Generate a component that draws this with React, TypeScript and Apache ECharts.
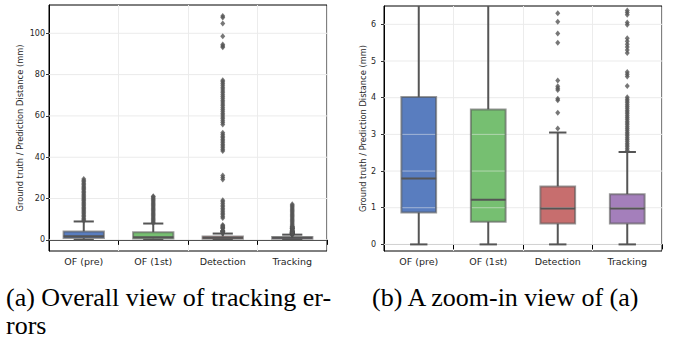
import React, { useEffect, useRef } from "react";
import * as echarts from "echarts";

const categories = ["OF (pre)", "OF (1st)", "Detection", "Tracking"];
const lowWhisker = [0, 0, 0, 0];
const q1 = [0.87, 0.62, 0.57, 0.57];
const median = [1.8, 1.22, 0.98, 0.98];
const q3 = [4.02, 3.68, 1.58, 1.37];
const highWhisker = [8.9, 7.9, 3.05, 2.52];
const boxColors = ["#597dbf", "#76bf71", "#c76e6e", "#a47fbb"];

const outliersOFpre = [9.3, 9.9, 10.5, 11.2, 11.8, 12.5, 13.1, 13.8, 14.4, 15.1, 15.7, 16.4, 17.0, 17.7, 18.3, 19.0, 19.6, 20.3, 20.9, 21.6, 22.2, 22.9, 23.5, 24.2, 24.8, 25.5, 26.1, 26.8, 27.4, 28.1, 28.7, 29.4];
const outliersOF1st = [8.1, 8.7, 9.3, 9.9, 10.5, 11.1, 11.7, 12.3, 12.9, 13.5, 14.1, 14.7, 15.3, 15.9, 16.5, 17.1, 17.7, 18.3, 18.9, 19.5, 20.1, 20.7, 21.1];
const outliersDetection = [3.16, 3.59, 3.93, 3.97, 4.21, 4.26, 4.31, 4.47, 5.5, 5.75, 6.07, 6.3, 6.8, 7.2, 10.6, 11.3, 12.1, 12.9, 13.6, 14.4, 15.2, 16.0, 16.8, 17.6, 18.4, 19.2, 29.2, 30.2, 31.1, 43.0, 43.8, 44.6, 45.4, 46.2, 47.0, 47.8, 48.6, 49.4, 50.2, 51.0, 51.8, 55.9, 56.8, 57.7, 58.6, 59.5, 60.4, 61.3, 62.2, 63.1, 64.0, 64.9, 65.8, 66.7, 67.6, 68.5, 69.4, 70.3, 71.2, 72.1, 73.0, 73.9, 74.8, 75.7, 76.6, 77.3, 93.2, 93.9, 94.6, 98.6, 104.8, 107.6, 108.4];
const outliersTracking = [2.56, 2.61, 2.66, 2.71, 2.76, 2.81, 2.86, 2.91, 2.96, 3.01, 3.06, 3.11, 3.16, 3.21, 3.26, 3.31, 3.36, 3.41, 3.46, 3.51, 3.56, 3.61, 3.66, 3.71, 3.76, 3.81, 3.86, 3.91, 3.96, 4.01, 4.32, 4.58, 4.64, 4.7, 5.22, 5.3, 5.38, 5.46, 5.54, 5.62, 5.99, 6.05, 6.26, 6.32, 6.38, 7.0, 7.6, 8.2, 8.8, 9.4, 10.0, 10.6, 11.2, 11.8, 12.4, 13.0, 13.6, 14.2, 14.8, 15.4, 16.0, 16.6, 17.2];
const outlierLists = [outliersOFpre, outliersOF1st, outliersDetection, outliersTracking];

const leftTicks = [0, 20, 40, 60, 80, 100];
const rightTicks = [0, 1, 2, 3, 4, 5, 6];
const leftRange = [-5.4, 113.7];
const rightRange = [-0.18, 6.5];

const yName = "Ground truth / Prediction Distance (mm)";
const captionA1 = "(a) Overall view of tracking er-";
const captionA2 = "rors";
const captionB = "(b) A zoom-in view of (a)";

const LINE = "#555555";
const TXT = "#262626";
const FONT = "DejaVu Sans";
const SERIF = "'Liberation Serif', 'Times New Roman', Times, serif";

function makeRender(ratio: number, ticks: number[]) {
  return (params: any, api: any) => {
    const cs = params.coordSys;
    const top = cs.y;
    const bottom = cs.y + cs.height;
    const clampY = (v: number) => Math.max(top, Math.min(bottom, v));
    const xi = api.value(0);
    const cx = api.coord([xi, 0])[0];
    const bw = api.size([1, 0])[0] * ratio;
    const rawLow = api.coord([xi, api.value(1)])[1];
    const rawHigh = api.coord([xi, api.value(5)])[1];
    const yLow = clampY(rawLow);
    const yQ1 = clampY(api.coord([xi, api.value(2)])[1]);
    const yMed = clampY(api.coord([xi, api.value(3)])[1]);
    const yQ3 = clampY(api.coord([xi, api.value(4)])[1]);
    const yHigh = clampY(rawHigh);
    const lineStyle = { stroke: LINE, lineWidth: 2, fill: null };
    const children: any[] = [
      { type: "line", shape: { x1: cx, y1: yQ1, x2: cx, y2: yLow }, style: lineStyle },
      { type: "line", shape: { x1: cx, y1: yQ3, x2: cx, y2: yHigh }, style: lineStyle },
      {
        type: "rect",
        shape: { x: cx - bw / 2, y: yQ3, width: bw, height: yQ1 - yQ3 },
        style: { fill: boxColors[xi], stroke: "rgba(85,85,85,0.6)", lineWidth: 2 },
      },
    ];
    ticks.forEach((t) => {
      const ty = api.coord([xi, t])[1];
      if (ty > yQ3 + 1.5 && ty < yQ1 - 1.5) {
        children.push({
          type: "line",
          shape: { x1: cx - bw / 2 + 1, y1: ty, x2: cx + bw / 2 - 1, y2: ty },
          style: { stroke: "rgba(240,240,240,0.5)", lineWidth: 1 },
        });
      }
    });
    children.push({ type: "line", shape: { x1: cx - bw / 2, y1: yMed, x2: cx + bw / 2, y2: yMed }, style: lineStyle });
    if (rawLow >= top && rawLow <= bottom) {
      children.push({ type: "line", shape: { x1: cx - bw / 4, y1: yLow, x2: cx + bw / 4, y2: yLow }, style: lineStyle });
    }
    if (rawHigh >= top && rawHigh <= bottom) {
      children.push({ type: "line", shape: { x1: cx - bw / 4, y1: yHigh, x2: cx + bw / 4, y2: yHigh }, style: lineStyle });
    }
    return { type: "group", children };
  };
}

function renderGridLine(params: any, api: any) {
  const cs = params.coordSys;
  const y = api.coord([0, api.value(1)])[1];
  return {
    type: "line",
    shape: { x1: cs.x, y1: y, x2: cs.x + cs.width, y2: y },
    style: { stroke: "#ebebeb", lineWidth: 1 },
  };
}

export default function App() {
  const ref = useRef<HTMLDivElement>(null);
  useEffect(() => {
    if (!ref.current) return;
    const chart = echarts.init(ref.current, null, { renderer: "svg" });
    const boxData = categories.map((_, i) => [i, lowWhisker[i], q1[i], median[i], q3[i], highWhisker[i]]);
    const outlierData: number[][] = [];
    outlierLists.forEach((list, i) => list.forEach((v) => outlierData.push([i, v])));

    const xAxisCommon = (gi: number) => ({
      type: "category",
      gridIndex: gi,
      data: categories,
      axisLine: { lineStyle: { color: "#000", width: 1 } },
      axisTick: { show: true, length: 5, lineStyle: { color: "#000" } },
      axisLabel: { fontFamily: FONT, fontSize: 9.5, color: TXT, margin: 5 },
      splitLine: { show: true, lineStyle: { color: "#ececec", width: 1 } },
    });
    const yAxisCommon = (gi: number, range: number[], ticks: number[], labelMargin: number, nameGap: number) => ({
      type: "value",
      gridIndex: gi,
      min: range[0],
      max: range[1],
      name: yName,
      nameLocation: "middle",
      nameGap,
      nameTextStyle: { fontFamily: FONT, fontSize: 8.3, color: TXT },
      axisLine: { show: true, lineStyle: { color: "#000", width: 1 } },
      axisTick: { show: true, length: 3, customValues: ticks, lineStyle: { color: "#333" } },
      axisLabel: { fontFamily: FONT, fontSize: 8, color: TXT, margin: labelMargin, customValues: ticks },
      splitLine: { show: false },
    });
    const gridSeries = (gi: number, ticks: number[]) => ({
      type: "custom",
      xAxisIndex: gi,
      yAxisIndex: gi,
      silent: true,
      z: 1,
      renderItem: renderGridLine,
      data: ticks.map((t) => [0, t]),
      encode: { x: 0, y: 1 },
    });

    chart.setOption({
      animation: false,
      grid: [
        { left: 49, top: 5, width: 278, height: 246, show: true, borderColor: "#000", borderWidth: 1, backgroundColor: "transparent" },
        { left: 384, top: 6, width: 278, height: 245, show: true, borderColor: "#000", borderWidth: 1, backgroundColor: "transparent" },
      ],
      xAxis: [xAxisCommon(0), xAxisCommon(1)],
      yAxis: [
        yAxisCommon(0, leftRange, leftTicks, 4, 25),
        yAxisCommon(1, rightRange, rightTicks, 8, 14),
      ],
      series: [
        gridSeries(0, leftTicks),
        gridSeries(1, rightTicks),
        {
          type: "custom",
          xAxisIndex: 0,
          yAxisIndex: 0,
          renderItem: makeRender(0.58, leftTicks),
          data: boxData,
          encode: { x: 0, y: [1, 2, 3, 4, 5] },
          clip: true,
          z: 2,
        },
        {
          type: "custom",
          xAxisIndex: 1,
          yAxisIndex: 1,
          renderItem: makeRender(0.5, rightTicks),
          data: boxData,
          encode: { x: 0, y: [1, 2, 3, 4, 5] },
          clip: true,
          z: 2,
        },
        {
          type: "scatter",
          xAxisIndex: 0,
          yAxisIndex: 0,
          data: outlierData,
          symbol: "diamond",
          symbolSize: [5, 6],
          itemStyle: { color: LINE },
          z: 6,
          clip: true,
        },
        {
          type: "scatter",
          xAxisIndex: 1,
          yAxisIndex: 1,
          data: outlierData,
          symbol: "diamond",
          symbolSize: [5, 6],
          itemStyle: { color: LINE },
          z: 6,
          clip: true,
        },
      ],
    });
    return () => chart.dispose();
  }, []);
  const cap: React.CSSProperties = {
    position: "absolute",
    fontFamily: SERIF,
    fontSize: 26,
    lineHeight: "28px",
    color: "#000",
    whiteSpace: "nowrap",
    margin: 0,
  };
  return (
    <div style={{ position: "absolute", left: 0, top: 0, width: 676, height: 343 }}>
      <div ref={ref} style={{ position: "absolute", left: 0, top: 0, width: 676, height: 343 }} />
      <div style={{ ...cap, left: 6, top: 284 }}>
        {captionA1}
        <br />
        {captionA2}
      </div>
      <div style={{ ...cap, left: 372, top: 284 }}>{captionB}</div>
    </div>
  );
}
